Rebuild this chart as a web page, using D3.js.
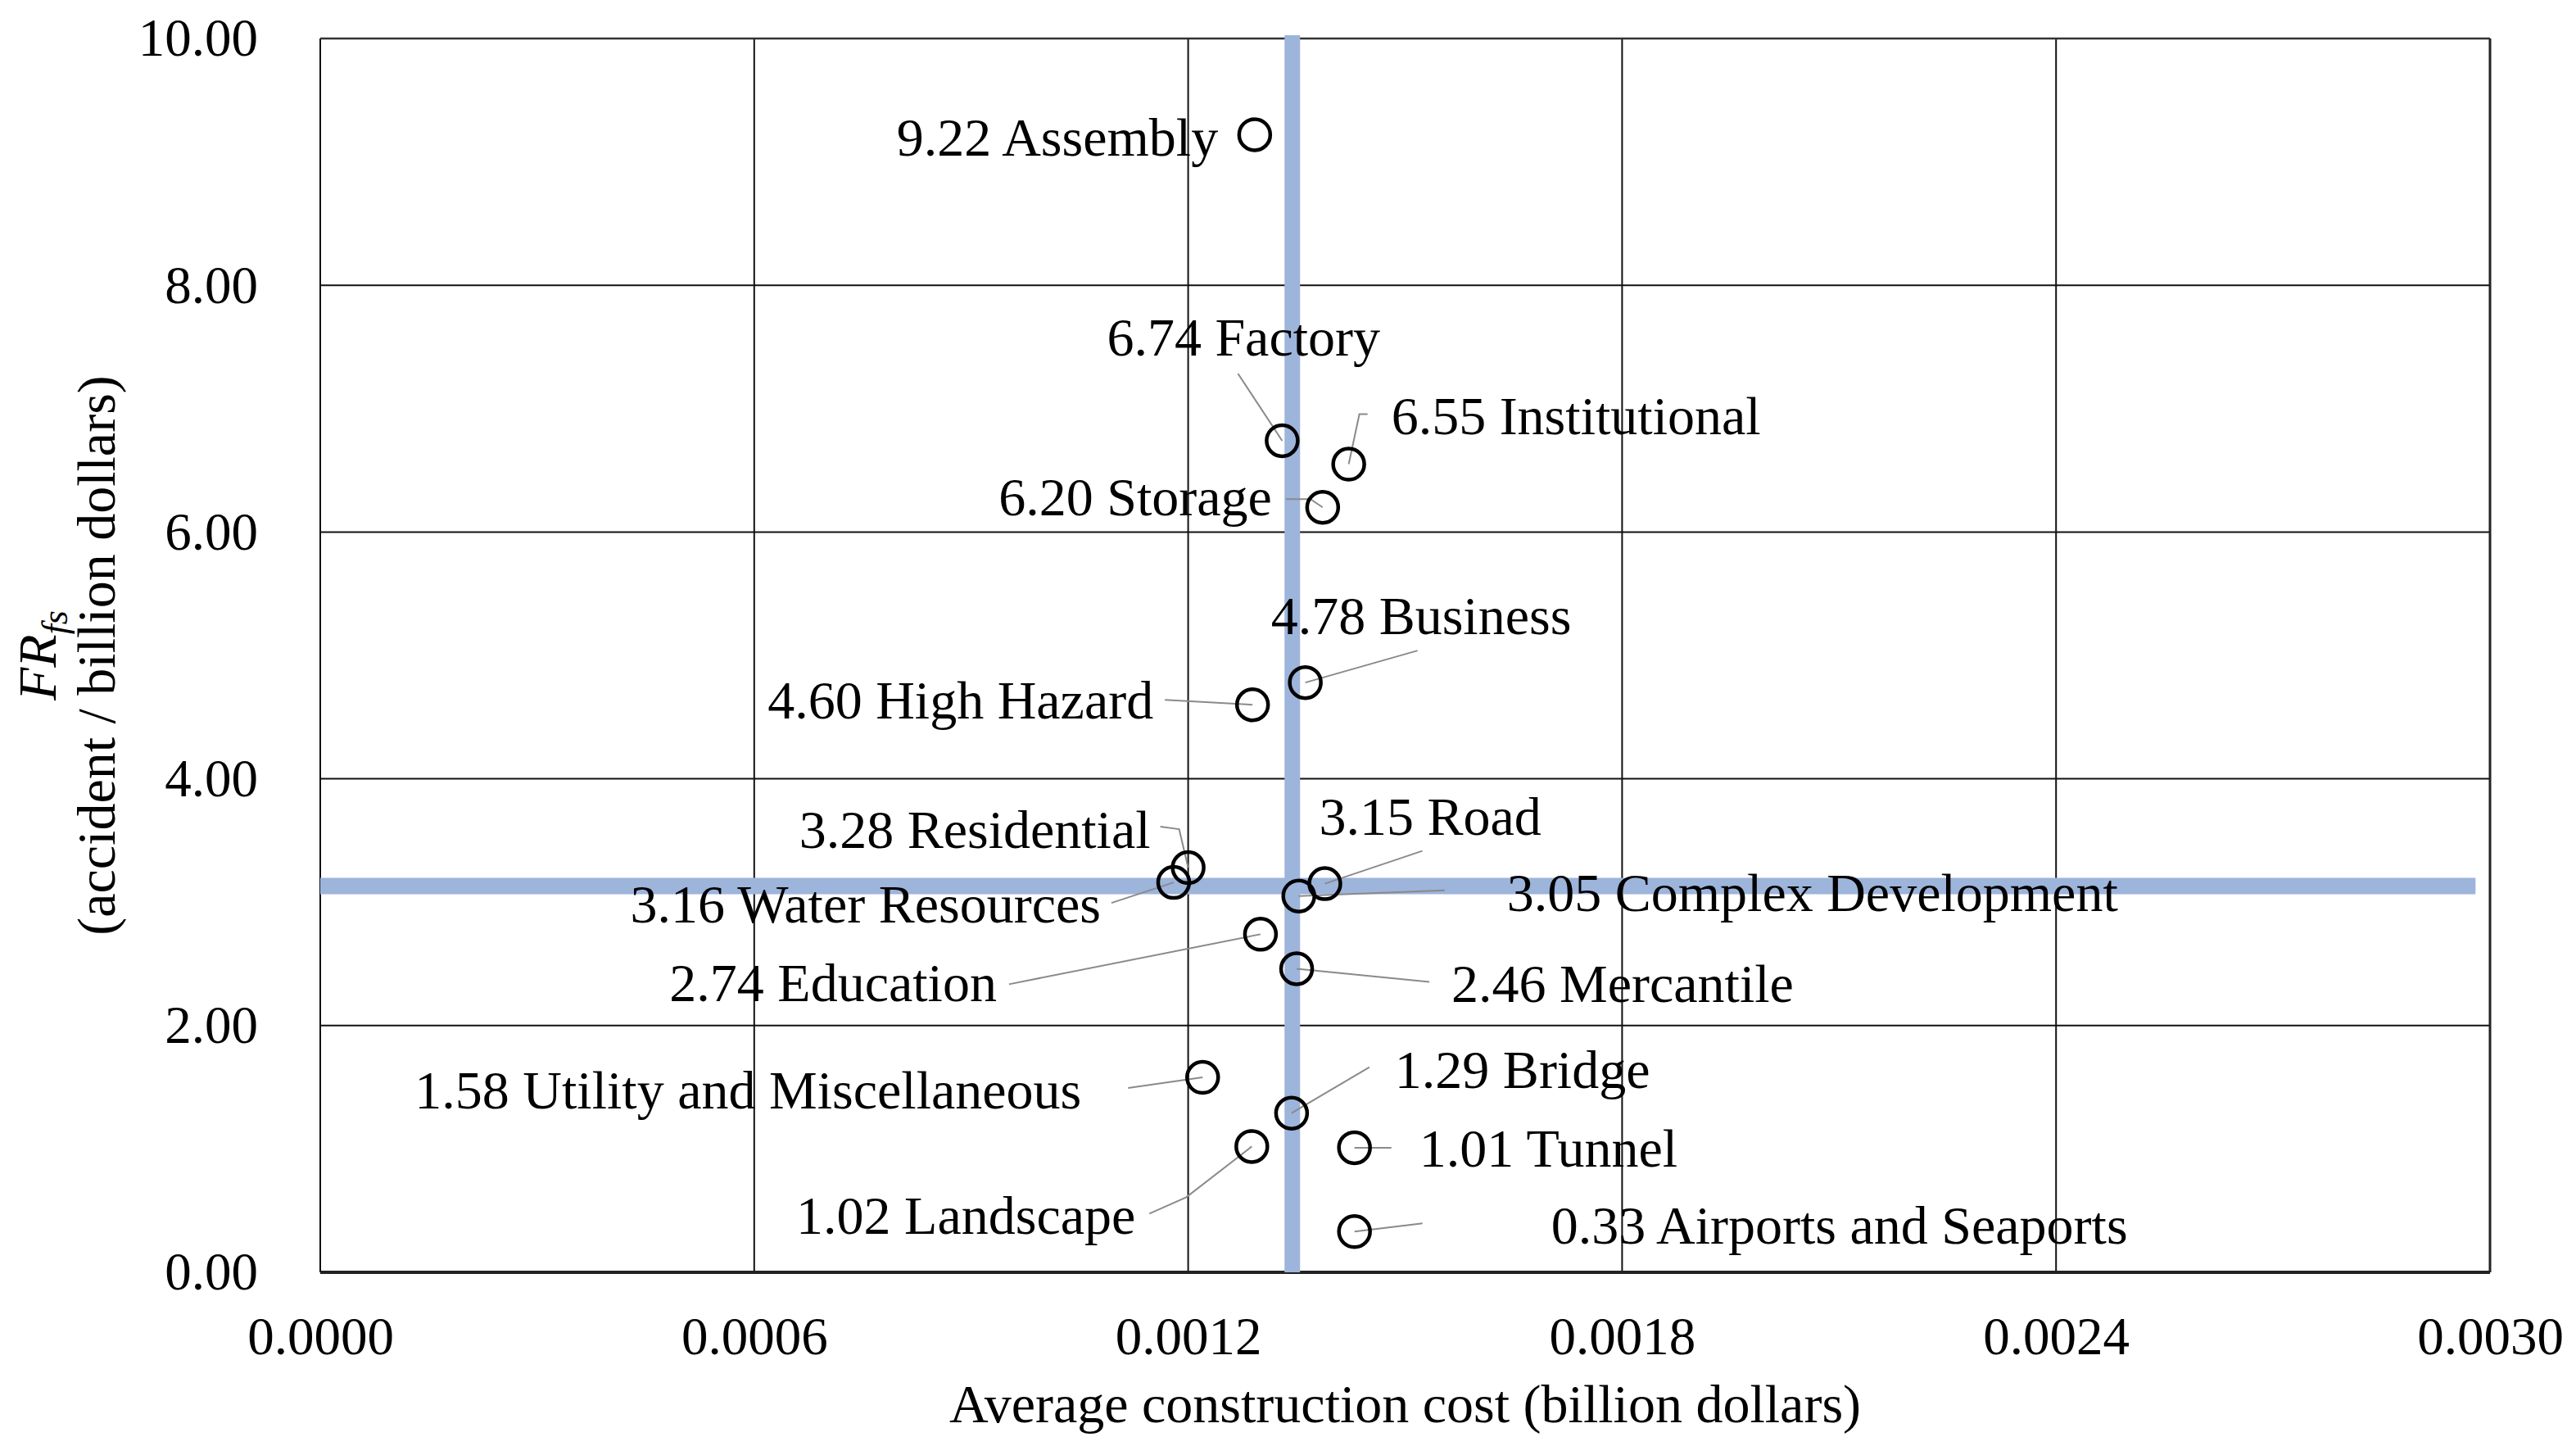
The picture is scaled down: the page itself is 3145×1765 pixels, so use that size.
<!DOCTYPE html>
<html>
<head>
<meta charset="utf-8">
<script src="https://cdn.jsdelivr.net/npm/d3@7"></script>
<style>
  html, body { margin: 0; padding: 0; background: #fff; }
  svg { display: block; }
  text { font-family: "Liberation Serif", "Times New Roman", Times, serif; fill: #000; }
</style>
</head>
<body>
<svg id="chart" width="3145" height="1765"></svg>
<script>
// ---------------- data ----------------
const categories = ["Assembly", "Factory", "Institutional", "Storage", "Business", "High Hazard",
  "Residential", "Water Resources", "Road", "Complex Development", "Education", "Mercantile",
  "Utility and Miscellaneous", "Bridge", "Landscape", "Tunnel", "Airports and Seaports"];
const avgCost = [0.001292, 0.001330, 0.001422, 0.001386, 0.001362, 0.001289,
  0.001200, 0.001180, 0.001389, 0.001353, 0.001300, 0.001350,
  0.001220, 0.001343, 0.001288, 0.001430, 0.001430];
const frValues = [9.22, 6.74, 6.55, 6.20, 4.78, 4.60,
  3.28, 3.16, 3.15, 3.05, 2.74, 2.46,
  1.58, 1.29, 1.02, 1.01, 0.33];
const meanCost = 0.001344;     // vertical reference line
const meanFR = 3.13;           // horizontal reference line
const hLineEndCost = 0.00298;  // horizontal reference line extends to here
const xTicks = [0, 0.0006, 0.0012, 0.0018, 0.0024, 0.0030];
const yTicks = [0, 2, 4, 6, 8, 10];
const xTitle = "Average construction cost (billion dollars)";
const yTitleLine2 = "(accident / billion dollars)";

// ---------------- label layout (pixel offsets relative to each point) ----------------
const labelLayout = [
  {dx: -437, dy: 26, anchor: "start", leader: null},
  {dx: -214, dy: -104, anchor: "start", leader: [[-54, -82]]},
  {dx: 52, dy: -37, anchor: "start", leader: [[23, -61], [13, -61]]},
  {dx: -62, dy: 10, anchor: "end", leader: [[-45, -10], [-15, -10]]},
  {dx: -42, dy: -59, anchor: "start", leader: [[137, -39]]},
  {dx: -121, dy: 17, anchor: "end", leader: [[-107, -6]]},
  {dx: -46, dy: -24, anchor: "end", leader: [[-34, -50], [-11, -47]]},
  {dx: -89, dy: 49, anchor: "end", leader: [[-76, 25]]},
  {dx: -7, dy: -60, anchor: "start", leader: [[119, -40]]},
  {dx: 254, dy: 18, anchor: "start", leader: [[178, -7]]},
  {dx: -322, dy: 82, anchor: "end", leader: [[-307, 61]]},
  {dx: 189, dy: 40, anchor: "start", leader: [[162, 16]]},
  {dx: -148, dy: 38, anchor: "end", leader: [[-91, 13]]},
  {dx: 126, dy: -31, anchor: "start", leader: [[95, -56]]},
  {dx: -142, dy: 107, anchor: "end", leader: [[-125, 82], [-80, 62]]},
  {dx: 79, dy: 23, anchor: "start", leader: [[45, 0]]},
  {dx: 240, dy: 15, anchor: "start", leader: [[83, -10]]}
];

// ---------------- chart ----------------
const svg = d3.select("#chart");
const margin = {left: 391, right: 3145 - 3040, top: 47, bottom: 1765 - 1553};
const W = 3145, H = 1765;
const x = d3.scaleLinear().domain([0, 0.003]).range([margin.left, W - margin.right]);
const y = d3.scaleLinear().domain([0, 10]).range([H - margin.bottom, margin.top]);

const g = svg.append("g");

// gridlines
g.append("g").selectAll("line.vg").data(xTicks).join("line")
  .attr("x1", d => x(d)).attr("x2", d => x(d))
  .attr("y1", y(0)).attr("y2", y(10))
  .attr("stroke", "#111").attr("stroke-width", 2);
g.append("g").selectAll("line.hg").data(yTicks).join("line")
  .attr("x1", x(0)).attr("x2", x(0.003))
  .attr("y1", d => y(d)).attr("y2", d => y(d))
  .attr("stroke", "#111").attr("stroke-width", 2);

// frame emphasis
g.append("line").attr("x1", x(0)).attr("x2", x(0.003)).attr("y1", y(0)).attr("y2", y(0))
  .attr("stroke", "#222").attr("stroke-width", 4);
g.append("line").attr("x1", x(0.003)).attr("x2", x(0.003)).attr("y1", y(0)).attr("y2", y(10))
  .attr("stroke", "#222").attr("stroke-width", 3);
g.append("line").attr("x1", x(0)).attr("x2", x(0.003)).attr("y1", y(10)).attr("y2", y(10))
  .attr("stroke", "#333").attr("stroke-width", 2.5);

// axes (labels only)
const yAxis = d3.axisLeft(y).tickValues(yTicks).tickSize(0).tickPadding(76).tickFormat(d3.format(".2f"));
const yAx = svg.append("g").attr("transform", `translate(${x(0)},0)`).call(yAxis);
yAx.select(".domain").remove();
yAx.selectAll("text").attr("font-size", 65).attr("font-family", "Liberation Serif, Times New Roman, serif").attr("fill", "#000");

const xAxis = d3.axisBottom(x).tickValues(xTicks).tickSize(0).tickPadding(54).tickFormat(d3.format(".4f"));
const xAx = svg.append("g").attr("transform", `translate(0,${y(0)})`).call(xAxis);
xAx.select(".domain").remove();
xAx.selectAll("text").attr("font-size", 65).attr("font-family", "Liberation Serif, Times New Roman, serif").attr("fill", "#000");

// reference lines
const blue = "#9db4db";
g.append("line").attr("x1", x(meanCost)).attr("x2", x(meanCost))
  .attr("y1", y(0)).attr("y2", y(10) - 4)
  .attr("stroke", blue).attr("stroke-width", 19);
g.append("line").attr("x1", x(0)).attr("x2", x(hLineEndCost))
  .attr("y1", y(meanFR)).attr("y2", y(meanFR))
  .attr("stroke", blue).attr("stroke-width", 20);

// data
const pts = categories.map((c, i) => ({name: c, cx: avgCost[i], fr: frValues[i], lay: labelLayout[i]}));

// leader lines
const lineGen = d3.line();
g.append("g").selectAll("path").data(pts.filter(p => p.lay.leader)).join("path")
  .attr("d", p => {
    const px = x(p.cx), py = y(p.fr);
    const arr = p.lay.leader.map(([a, b]) => [px + a, py + b]);
    arr.push([px, py]);
    return lineGen(arr);
  })
  .attr("fill", "none").attr("stroke", "#8a8a8a").attr("stroke-width", 2);

// markers
g.append("g").selectAll("circle").data(pts).join("circle")
  .attr("cx", p => x(p.cx)).attr("cy", p => y(p.fr))
  .attr("r", 19).attr("fill", "none").attr("stroke", "#000").attr("stroke-width", 4.5);

// data labels
g.append("g").selectAll("text").data(pts).join("text")
  .attr("x", p => x(p.cx) + p.lay.dx)
  .attr("y", p => y(p.fr) + p.lay.dy)
  .attr("text-anchor", p => p.lay.anchor)
  .attr("font-size", 66)
  .text(p => d3.format(".2f")(p.fr) + " " + p.name);

// axis titles
svg.append("text").attr("x", (x(0) + x(0.003)) / 2).attr("y", 1736)
  .attr("text-anchor", "middle").attr("font-size", 66).text(xTitle);

const yc = (y(0) + y(10)) / 2;
const t1 = svg.append("text").attr("transform", `translate(68,${yc}) rotate(-90)`)
  .attr("text-anchor", "middle").attr("font-size", 66);
t1.append("tspan").attr("font-style", "italic").text("FR");
t1.append("tspan").attr("font-style", "italic").attr("font-size", 44).attr("dy", 14).text("fs");
svg.append("text").attr("transform", `translate(140,${yc}) rotate(-90)`)
  .attr("text-anchor", "middle").attr("font-size", 66).text(yTitleLine2);
</script>
</body>
</html>
